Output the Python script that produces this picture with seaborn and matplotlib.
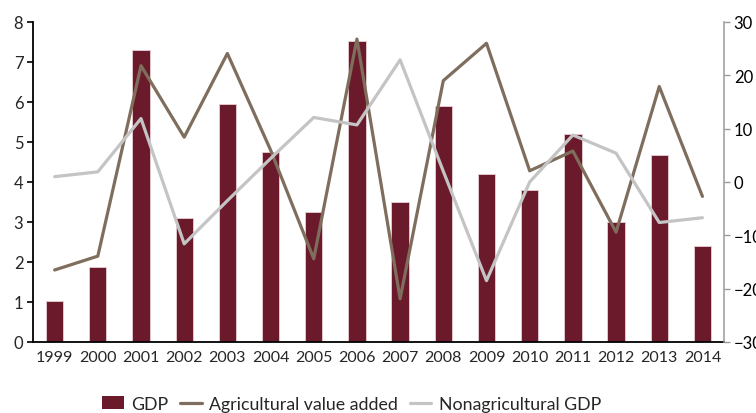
import numpy as np
import pandas as pd
import matplotlib
matplotlib.use("Agg")
import matplotlib.pyplot as plt
import seaborn as sns
from matplotlib.lines import Line2D
from matplotlib.patches import Patch

years = [str(y) for y in range(1999, 2015)]
gdp = [1.03, 1.88, 7.3, 3.1, 5.94, 4.76, 3.25, 7.52, 3.5, 5.9, 4.2, 3.8, 5.2, 3.0, 4.68, 2.4]
agri = [-16.5, -13.9, 21.8, 8.4, 24.1, 6.0, -14.4, 26.8, -21.9, 19.0, 26.0, 2.1, 5.8, -9.4, 17.9, -2.7]
nonag = [1.0, 1.9, 11.9, -11.6, -3.5, 4.4, 12.1, 10.7, 22.9, 2.0, -18.5, 0.0, 8.8, 5.4, -7.6, -6.7]

bar_color = "#6a1a2a"
agri_color = "#7f6e5d"
nonag_color = "#c4c4c4"

sns.set_style("white")
plt.rcParams["font.family"] = ["Lato", "DejaVu Sans"]

df = pd.DataFrame({"year": years, "gdp": gdp, "agri": agri, "nonag": nonag,
                   "pos": np.arange(len(years))})

fig = plt.figure(figsize=(7.56, 4.14), dpi=100)
ax = fig.add_axes([0.0437, 0.1715, 0.914, 0.773])

sns.barplot(data=df, x="year", y="gdp", color=bar_color, width=0.4,
            saturation=1, edgecolor="#e8d0d4", linewidth=0.6, ax=ax)
ax.set_ylim(0, 8)
ax.set_yticks(range(0, 9))
ax.set_xlabel("")
ax.set_ylabel("")

ax2 = ax.twinx()
sns.lineplot(data=df, x="pos", y="agri", color=agri_color, linewidth=2.3, ax=ax2)
sns.lineplot(data=df, x="pos", y="nonag", color=nonag_color, linewidth=2.3, ax=ax2)
ax2.set_ylim(-30, 30)
ax2.set_yticks(range(-30, 31, 10))
ax2.set_xlabel("")
ax2.set_ylabel("")

for a in (ax, ax2):
    a.spines["top"].set_visible(False)

ax.spines["left"].set_color("black")
ax.spines["left"].set_linewidth(1.3)
ax.spines["bottom"].set_color("black")
ax.spines["bottom"].set_linewidth(1.3)
ax.spines["right"].set_visible(False)
ax2.spines["left"].set_visible(False)
ax2.spines["bottom"].set_visible(False)
ax2.spines["right"].set_color("#9a9a9a")
ax2.spines["right"].set_linewidth(1.1)

# category ticks: labels at centres, tick marks at the boundaries
ax.set_xlim(-0.5, len(years) - 0.5)
ax.set_xticks(np.arange(len(years)))
ax.set_xticklabels(years)
ax.set_xticks(np.arange(len(years) + 1) - 0.5, minor=True)
ax.tick_params(axis="x", which="major", length=0, labelsize=11.5, pad=6)
ax.tick_params(axis="x", which="minor", length=5, width=1.2, color="black", direction="out")
ax.tick_params(axis="y", length=4, width=1.2, color="black", direction="out", labelsize=12, pad=3)
ax2.tick_params(axis="y", length=4, width=1.0, color="#9a9a9a", direction="out",
                labelsize=12, labelcolor="black", pad=3)

handles = [
    Patch(facecolor=bar_color, edgecolor="none", label="GDP"),
    Line2D([0], [0], color=agri_color, linewidth=2.3, label="Agricultural value added"),
    Line2D([0], [0], color=nonag_color, linewidth=2.3, label="Nonagricultural GDP"),
]
fig.legend(handles=handles, loc="center", bbox_to_anchor=(0.465, 0.022), ncol=3,
           frameon=False, fontsize=12.8, handlelength=1.2, handleheight=0.7,
           handletextpad=0.4, columnspacing=0.7)

fig.savefig("out.png", dpi=100)
